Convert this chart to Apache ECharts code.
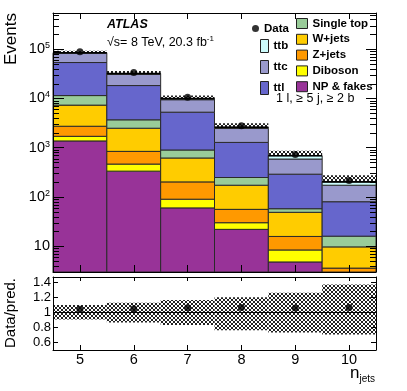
<!DOCTYPE html>
<html>
<head>
<meta charset="utf-8">
<script src="https://cdn.jsdelivr.net/npm/echarts@6/dist/echarts.min.js"></script>
<style>
  html, body { margin: 0; padding: 0; background: #fff; }
  #chart { width: 407px; height: 391px; }
</style>
</head>
<body>
<div id="chart"></div>
<script>
// bins
var nJets = ['5', '6', '7', '8', '9', '10'];

// expected events per process
var npFakes   = [1370, 334, 60, 22, 4.8, 1.4];
var diboson   = [330, 131, 30, 8, 3.6, 0.8];
var zJets     = [1020, 376, 112, 26, 7.4, 1.4];
var wJets     = [4580, 1640, 415, 117, 33, 6.1];
var singleTop = [4100, 1190, 280, 75, 8.9, 6.3];
var ttl       = [42000, 14530, 4350, 1030, 232, 64];
var ttc       = [28600, 12300, 4150, 1170, 298, 93];
var ttb       = [2500, 1400, 470, 150, 99, 29];

// observed
var dataEvents = [88000, 33500, 10500, 2770, 725, 216];

// ratio panel
var ratio  = [1.04, 1.048, 1.06, 1.066, 1.057, 1.066];
var bandUp = [1.097, 1.128, 1.164, 1.20, 1.26, 1.37];
var bandLo = [0.906, 0.867, 0.831, 0.764, 0.733, 0.707];

var yMin = 3, yMax = 540000;
var font = "'Liberation Sans', Arial, sans-serif";

// layers bottom -> top
var layers = [
  { name: 'NP & fakes', vals: npFakes,   color: '#983398' },
  { name: 'Diboson',    vals: diboson,   color: '#ffff00' },
  { name: 'Z+jets',     vals: zJets,     color: '#ff9900' },
  { name: 'W+jets',     vals: wJets,     color: '#ffcc00' },
  { name: 'Single top', vals: singleTop, color: '#99cc99' },
  { name: 'ttl',        vals: ttl,       color: '#6666cc' },
  { name: 'ttc',        vals: ttc,       color: '#9999cc' },
  { name: 'ttb',        vals: ttb,       color: '#ccfcfc' }
];

// cumulative bottoms / tops
var running = nJets.map(function(){ return 0; });
layers.forEach(function(l){
  l.rows = l.vals.map(function(v, i){
    var lo = running[i];
    running[i] += v;
    return [i, lo, running[i]];
  });
});
var total = running.slice();

// crosshatch pattern
function makeHatch(col){
  var c = document.createElement('canvas');
  c.width = 4; c.height = 4;
  var g = c.getContext('2d');
  g.fillStyle = col;
  for (var i = 0; i < 4; i++) {
    g.fillRect(i, i, 1, 1);
    g.fillRect(3 - i, i, 1, 1);
  }
  return { image: c, repeat: 'repeat' };
}
var hatch = makeHatch('#222');

// minor log ticks
var minorVals = [];
for (var e = 0; e <= 5; e++) {
  for (var m = 2; m <= 9; m++) {
    var v = m * Math.pow(10, e);
    if (v > yMin && v < yMax) minorVals.push([0, v]);
  }
}

var chart = echarts.init(document.getElementById('chart'), null, { renderer: 'canvas' });

// bin width in pixels = distance between neighbouring category centres
function binWidth(api, v){
  return api.coord([1, v])[0] - api.coord([0, v])[0];
}

function binRect(params, api, lowVal, highVal, style, logAxis){
  var cs = params.coordSys;
  var bottom = cs.y + cs.height;
  var i = api.value(0);
  var ref = logAxis ? yMax : highVal;
  var w = binWidth(api, ref);
  var cx = api.coord([i, ref])[0];
  var yHi, yLo;
  if (logAxis) {
    yHi = highVal > yMin ? api.coord([i, highVal])[1] : bottom;
    yLo = lowVal > yMin ? api.coord([i, lowVal])[1] : bottom;
    yHi = Math.min(yHi, bottom); yLo = Math.min(yLo, bottom);
  } else {
    yHi = api.coord([i, highVal])[1];
    yLo = api.coord([i, lowVal])[1];
  }
  return {
    type: 'rect',
    shape: { x: cx - w / 2, y: yHi, width: w, height: yLo - yHi },
    style: style
  };
}

var series = [];
layers.forEach(function(l){
  series.push({
    name: l.name,
    type: 'custom',
    xAxisIndex: 0, yAxisIndex: 0,
    z: 2,
    data: l.rows,
    encode: { x: 0, y: [1, 2] },
    itemStyle: { color: l.color, borderColor: '#2a2a2a', borderWidth: 1 },
    renderItem: function(params, api){
      return binRect(params, api, api.value(1), api.value(2),
        { fill: l.color, stroke: '#2a2a2a', lineWidth: 1 }, true);
    },
    animation: false
  });
});

// uncertainty band above the total
series.push({
  name: 'unc',
  type: 'custom',
  xAxisIndex: 0, yAxisIndex: 0,
  z: 3,
  data: total.map(function(t, i){ return [i, t, t * bandUp[i]]; }),
  encode: { x: 0, y: [1, 2] },
  renderItem: function(params, api){
    return binRect(params, api, api.value(1), api.value(2), { fill: hatch }, true);
  },
  animation: false
});

// total line
series.push({
  name: 'totline',
  type: 'custom',
  xAxisIndex: 0, yAxisIndex: 0,
  z: 4,
  data: total.map(function(t, i){ return [i, t]; }),
  renderItem: function(params, api){
    var p = api.coord([api.value(0), api.value(1)]);
    var w = binWidth(api, api.value(1));
    return {
      type: 'line',
      shape: { x1: p[0] - w / 2, y1: p[1], x2: p[0] + w / 2, y2: p[1] },
      style: { stroke: '#000', lineWidth: 1.6 }
    };
  },
  animation: false
});

// minor ticks on the log axis
series.push({
  name: 'minor',
  type: 'custom',
  xAxisIndex: 0, yAxisIndex: 0,
  z: 10,
  silent: true,
  data: minorVals,
  renderItem: function(params, api){
    var y = Math.round(api.coord([0, api.value(1)])[1]) + 0.5;
    var cs = params.coordSys;
    return {
      type: 'group',
      children: [
        { type: 'line', shape: { x1: cs.x, y1: y, x2: cs.x + 6, y2: y }, style: { stroke: '#000', lineWidth: 1 } },
        { type: 'line', shape: { x1: cs.x + cs.width - 6, y1: y, x2: cs.x + cs.width, y2: y }, style: { stroke: '#000', lineWidth: 1 } }
      ]
    };
  },
  animation: false
});

// data points
series.push({
  name: 'Data',
  type: 'scatter',
  xAxisIndex: 0, yAxisIndex: 0,
  z: 6,
  symbol: 'circle',
  symbolSize: 7,
  itemStyle: { color: '#000' },
  data: dataEvents,
  animation: false
});

// ratio band
series.push({
  name: 'ratioBand',
  type: 'custom',
  xAxisIndex: 2, yAxisIndex: 2,
  z: 2,
  data: bandLo.map(function(lo, i){ return [i, lo, bandUp[i]]; }),
  encode: { x: 0, y: [1, 2] },
  renderItem: function(params, api){
    return binRect(params, api, api.value(1), api.value(2), { fill: hatch }, false);
  },
  animation: false
});

// ratio points + line at 1
series.push({
  name: 'ratio',
  type: 'scatter',
  xAxisIndex: 2, yAxisIndex: 2,
  z: 6,
  symbolSize: 7,
  itemStyle: { color: '#000' },
  data: ratio,
  markLine: {
    silent: true,
    symbol: 'none',
    label: { show: false },
    lineStyle: { color: '#000', type: 'solid', width: 1 },
    data: [{ yAxis: 1 }],
    animation: false
  },
  animation: false
});

function logLabel(v){
  var e = Math.round(Math.log(v) / Math.LN10);
  if (e === 1) return '10';
  return '10{s|' + e + '}';
}

var catAxis = function(grid, pos, showLabel, tickLen){
  return {
    type: 'category',
    gridIndex: grid,
    position: pos,
    data: nJets,
    z: 10,
    boundaryGap: true,
    axisLine: { show: true, onZero: false, lineStyle: { color: '#000', width: 1 } },
    axisTick: { show: true, inside: true, alignWithLabel: true, length: tickLen, lineStyle: { color: '#000' } },
    axisLabel: { show: showLabel, margin: 2, color: '#000', fontSize: 14.5, fontFamily: font },
    splitLine: { show: false }
  };
};

var legendText = { fontSize: 11.5, fontWeight: 'bold', color: '#000', fontFamily: font, lineHeight: 12 };

var option = {
  animation: false,
  backgroundColor: '#fff',
  textStyle: { fontFamily: font },
  grid: [
    { left: 53, top: 13, width: 323, height: 259, show: false },
    { left: 53, top: 277, width: 323, height: 73, show: false }
  ],
  xAxis: [
    catAxis(0, 'bottom', false, 7),
    catAxis(0, 'top', false, 6),
    catAxis(1, 'bottom', true, 5),
    catAxis(1, 'top', false, 4)
  ],
  yAxis: [
    {
      type: 'log', logBase: 10, gridIndex: 0, position: 'left', min: yMin, max: yMax, z: 10,
      axisLine: { show: true, lineStyle: { color: '#000' } },
      axisTick: { show: true, inside: true, length: 11, lineStyle: { color: '#000' } },
      axisLabel: {
        margin: 3, color: '#000', fontSize: 14.5, fontFamily: font, lineHeight: 16,
        showMinLabel: false, showMaxLabel: false,
        formatter: logLabel,
        rich: { s: { fontSize: 9, verticalAlign: 'top', fontFamily: font, color: '#000' } }
      },
      splitLine: { show: false }
    },
    {
      type: 'log', logBase: 10, gridIndex: 0, position: 'right', min: yMin, max: yMax, z: 10,
      axisLine: { show: true, lineStyle: { color: '#000' } },
      axisTick: { show: true, inside: true, length: 10, lineStyle: { color: '#000' } },
      axisLabel: { show: false },
      splitLine: { show: false }
    },
    {
      type: 'value', gridIndex: 1, position: 'left', min: 0.5, max: 1.47, z: 10,
      axisLine: { show: true, onZero: false, lineStyle: { color: '#000' } },
      axisTick: { show: true, inside: true, length: 5, lineStyle: { color: '#000' } },
      axisLabel: { margin: 2, color: '#000', fontSize: 13, fontFamily: font, showMinLabel: false, showMaxLabel: false },
      splitLine: { show: false }
    },
    {
      type: 'value', gridIndex: 1, position: 'right', min: 0.5, max: 1.47, z: 10,
      axisLine: { show: true, onZero: false, lineStyle: { color: '#000' } },
      axisTick: { show: true, inside: true, length: 5, lineStyle: { color: '#000' } },
      axisLabel: { show: false },
      splitLine: { show: false }
    }
  ],
  legend: [
    {
      data: [{ name: 'Data', icon: 'circle' }],
      orient: 'vertical', left: 252, top: 22.5, padding: 0,
      itemWidth: 7, itemHeight: 7, selectedMode: false,
      textStyle: legendText
    },
    {
      data: ['ttb', 'ttc', 'ttl'],
      orient: 'vertical', left: 260, top: 39, padding: 0, icon: 'rect',
      itemWidth: 8, itemHeight: 13, itemGap: 7, selectedMode: false,
      itemStyle: { borderColor: '#222', borderWidth: 1 },
      textStyle: legendText
    },
    {
      data: ['Single top', 'W+jets', 'Z+jets', 'Diboson', 'NP & fakes'],
      orient: 'vertical', left: 296, top: 17.5, padding: 0, icon: 'rect',
      itemWidth: 11, itemHeight: 10, itemGap: 3.8, selectedMode: false,
      itemStyle: { borderColor: '#222', borderWidth: 1 },
      textStyle: legendText
    }
  ],
  graphic: [
    {
      type: 'text', x: 107, y: 25,
      style: { text: 'ATLAS', fontSize: 12.5, fontWeight: 'bold', fontStyle: 'italic', fontFamily: font, fill: '#000', verticalAlign: 'middle' }
    },
    {
      type: 'text', x: 107, y: 43,
      style: {
        text: '\u221As= 8 TeV, 20.3 fb{sup|-1}', fontSize: 12.5, fontFamily: font, fill: '#000',
        verticalAlign: 'middle', lineHeight: 16,
        rich: { sup: { fontSize: 8, verticalAlign: 'top', fontFamily: font, fill: '#000' } }
      }
    },
    {
      type: 'text', x: 276, y: 99,
      style: { text: '1 l, \u2265 5 j, \u2265 2 b', fontSize: 12.5, fontFamily: font, fill: '#000', verticalAlign: 'middle' }
    },
    {
      type: 'text', x: 11, y: 13, rotation: Math.PI / 2,
      style: { text: 'Events', fontSize: 17, fontFamily: font, fill: '#000', align: 'right', verticalAlign: 'middle' }
    },
    {
      type: 'text', x: 11, y: 313, rotation: Math.PI / 2,
      style: { text: 'Data/pred.', fontSize: 15, fontFamily: font, fill: '#000', align: 'center', verticalAlign: 'middle' }
    },
    {
      type: 'text', x: 375, y: 373,
      style: {
        text: 'n{sub|jets}', fontSize: 17, fontFamily: font, fill: '#000',
        align: 'right', verticalAlign: 'middle', lineHeight: 22,
        rich: { sub: { fontSize: 10, verticalAlign: 'bottom', fontFamily: font, fill: '#000' } }
      }
    }
  ],
  series: series
};

chart.setOption(option);

window.addEventListener('resize', function(){
  chart.resize();
});
</script>
</body>
</html>
